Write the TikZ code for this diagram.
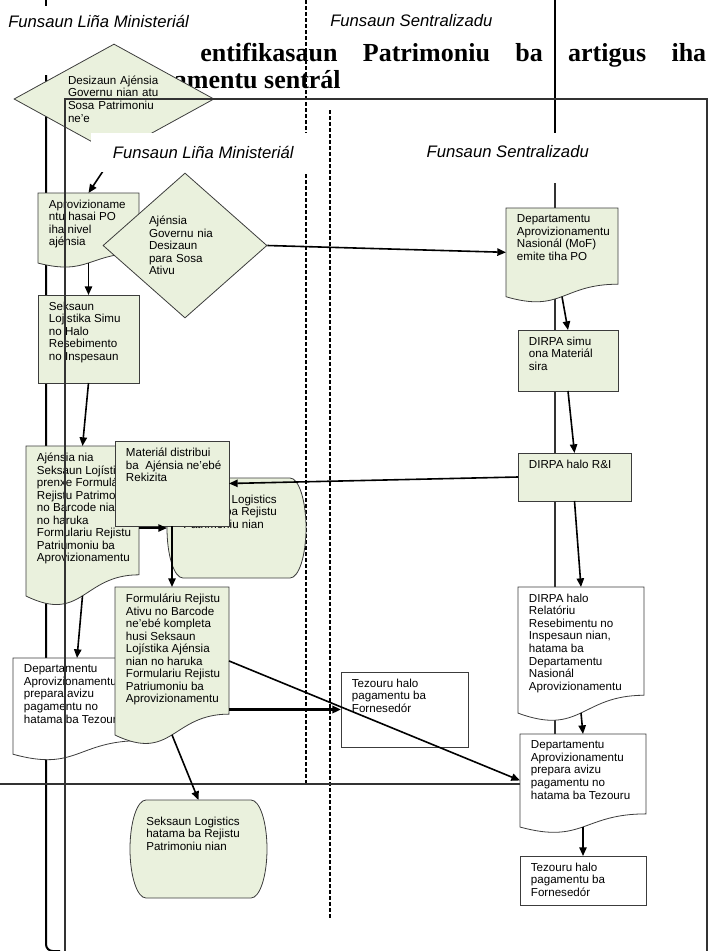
\documentclass[tikz,border=0pt]{standalone}
\usepackage{fontspec}
\setmainfont{Liberation Serif}
\setsansfont{Liberation Sans}
\usetikzlibrary{calc,shapes.geometric,arrows.meta}

\definecolor{flowgreen}{RGB}{234,241,221}
\definecolor{boxline}{RGB}{60,60,60}
\def\pxu{0.75pt}
\newcommand\flowfont{\sffamily\fontsize{8.7}{9.4}\selectfont}

% document shape: wavy bottom, text at top left
\def\docbox[#1](#2,#3)(#4:#5)#6#7{%
  \pgfmathsetmacro\dbxr{#2+#4}\pgfmathsetmacro\dbxm{#2+0.5*#4}%
  \pgfmathsetmacro\dbyr{#3+0.802*#5}\pgfmathsetmacro\dbyd{#3+1.107*#5}%
  \pgfmathsetmacro\dbyl{#3+0.934*#5}%
  \draw[shapeline,#1] (#2,#3) -- (\dbxr,#3) -- (\dbxr,\dbyr) .. controls (\dbxm,\dbyr) and (\dbxm,\dbyd) .. (#2,\dbyl) -- cycle;
  \node[boxarea, minimum width=#4*\pxu, minimum height=0.933*#5*\pxu] (#6) at (#2,#3) {};
  \node[txt] (#6-t) at (#2,#3) {#7};}
% plain process box
\def\rectbox[#1](#2,#3)(#4:#5)#6#7{%
  \node[boxarea, shapeline, #1, minimum width=#4*\pxu, minimum height=#5*\pxu] (#6) at (#2,#3) {};
  \node[txt] (#6-t) at (#2,#3) {#7};}
% box with bulging sides
\def\termbox[#1](#2,#3)(#4:#5)#6#7{%
  \pgfmathsetmacro\tbl{#2+16}\pgfmathsetmacro\tbr{#2+#4-16}\pgfmathsetmacro\tbx{#2+#4}%
  \pgfmathsetmacro\tbm{#3+0.5*#5}\pgfmathsetmacro\tbb{#3+#5}%
  \pgfmathsetmacro\tbu{#3+0.224*#5}\pgfmathsetmacro\tbd{#3+0.776*#5}%
  \pgfmathsetmacro\tbkl{#2+7.16}\pgfmathsetmacro\tbkr{#2+#4-7.16}%
  \draw[shapeline,#1] (\tbl,#3) -- (\tbr,#3) .. controls (\tbkr,#3) and (\tbx,\tbu) .. (\tbx,\tbm)
    .. controls (\tbx,\tbd) and (\tbkr,\tbb) .. (\tbr,\tbb) -- (\tbl,\tbb)
    .. controls (\tbkl,\tbb) and (#2,\tbd) .. (#2,\tbm) .. controls (#2,\tbu) and (\tbkl,#3) .. (\tbl,#3) -- cycle;
  \node[boxarea, minimum width=#4*\pxu, minimum height=#5*\pxu] (#6) at (#2,#3) {};
  \node[txt, inner xsep=12pt, inner ysep=12.5pt] (#6-t) at (#2,#3) {#7};}

\tikzset{
  shapeline/.style={draw=boxline, line width=0.6pt},
  boxarea/.style={anchor=north west, inner sep=0pt, outer sep=0pt},
  txt/.style={anchor=north west, inner xsep=8pt, inner ysep=5pt, align=left, font=\flowfont},
  hdr/.style={font=\sffamily\itshape\fontsize{12.5}{15}\selectfont, inner sep=0pt},
  titletxt/.style={font=\bfseries\fontsize{19.5}{23}\selectfont, inner sep=0pt},
  flow/.style={-{Triangle[length=6.5pt,width=5.5pt]}, line width=1.2pt},
  laneline/.style={line width=1.5pt},
  lanedash/.style={dash pattern=on 3pt off 1.5pt, line width=0.9pt},
  framedot/.style={line width=0.9pt, black!80}
}

\begin{document}
\begin{tikzpicture}[x=0.75pt, y=-0.75pt]
  \useasboundingbox (0,0) rectangle (710,951);

  %%%%% TITLE AND TOP HEADERS %%%%%
  \node[titletxt, anchor=base west] (title1) at (200,61) {\makebox[379.5pt][s]{entifikasaun Patrimoniu ba artigus iha}};
  \node[titletxt, anchor=base east] (title2) at (341,88) {pamentu sentrál};
  \node[hdr, anchor=west] (toplina) at (8,21) {Funsaun Liña Ministeriál};
  \node[hdr, anchor=west] (topsentral) at (330,21) {Funsaun Sentralizadu};

  %%%%% LANES %%%%%
  \draw[laneline] (46,0) -- (46,6);
  \draw[laneline, rounded corners=5pt] (46,75) -- (46,951) -- (60,951);
  \draw[laneline] (555,0) -- (555,133);
  \draw[lanedash] (306,0) -- (306,784);
  \draw[lanedash] (330,110) -- (330,918);
  \draw[framedot] (555,183) -- (555,800);
  \draw[framedot] (0,784) -- (560,784);

  \node[diamond, shapeline, fill=flowgreen, minimum width=200*\pxu, minimum height=110*\pxu, shape aspect=1.8, inner sep=0pt,
        text width=69pt, align=left, font=\flowfont] (desizaunsosa) at (114,99) {Desizaun Ajénsia\\Governu nian atu\\Sosa Patrimoniu\\ne'e};
  \draw[flow] (desizaunsosa.south) -- (88.5,193);

  \node[hdr, fill=white, anchor=north west, minimum width=224*\pxu, minimum height=39*\pxu] (hdrlina) at (91,133) {Funsaun Liña Ministeriál};
  \node[hdr, fill=white, anchor=north west, minimum width=335*\pxu, minimum height=37*\pxu] (hdrsentral) at (340,133) {Funsaun Sentralizadu};

  %%%%% LIÑA MINISTERIÁL %%%%%
  \docbox[fill=flowgreen](38,193)(101:75){aprovpo}{Aprovizioname\\ntu hasai PO\\iha nivel\\ajénsia}
  \node[diamond, shapeline, fill=flowgreen, minimum width=164*\pxu, minimum height=145*\pxu, shape aspect=1.13, inner sep=0pt,
        text width=54pt, align=left, font=\flowfont] (desizaunativu) at (185,245.5) {Ajénsia\\Governu nia\\Desizaun\\para Sosa\\Ativu};
  \rectbox[fill=flowgreen](38,295)(101:88){simuresebe}{Seksaun\\Lojistika Simu\\no Halo\\Resebimento\\no Inspesaun}
  \docbox[fill=flowgreen](26,446)(113:160.6){prenxeform}{Ajénsia nia\\Seksaun Lojístika\\prenxe Formuláriu\\Rejistu Patrimoniu\\no Barcode nian\\no haruka\\Formulariu Rejistu\\Patriumoniu ba\\Aprovizionamentu}
  \termbox[fill=flowgreen](167,478)(139:100){hatamatop}{Seksaun Logistics\\hatama ba Rejistu\\Patrimoniu nian}
  \rectbox[fill=flowgreen](115,441)(114:85){materialdist}{Materiál distribui\\ba~ Ajénsia ne'ebé\\Rekizita}
  \docbox[fill=white](13,658)(128:103){avizulina}{Departamentu\\Aprovizionamentu\\prepara avizu\\pagamentu no\\hatama ba Tezouru}
  \docbox[fill=flowgreen](115,587)(114:158.5){formkompleta}{Formuláriu Rejistu\\Ativu no Barcode\\ne'ebé kompleta\\husi Seksaun\\Lojístika Ajénsia\\nian no haruka\\Formulariu Rejistu\\Patriumoniu ba\\Aprovizionamentu}
  \rectbox[fill=white](341,672)(127:75){tezourulina}{Tezouru halo\\pagamentu ba\\Fornesedór}
  \termbox[fill=flowgreen](130,800)(137:98){hatamabottom}{Seksaun Logistics\\hatama ba Rejistu\\Patrimoniu nian}

  %%%%% SENTRALIZADU %%%%%
  \docbox[fill=flowgreen](506,208)(112:95){mofpo}{Departamentu\\Aprovizionamentu\\Nasionál (MoF)\\emite tiha PO}
  \rectbox[fill=flowgreen](518,330)(100:61){dirpasimu}{DIRPA simu\\ona Materiál\\sira}
  \rectbox[fill=flowgreen](518,453)(113:48){dirparni}{DIRPA halo R\&I}
  \docbox[fill=white](518,587)(126:135){dirparelatoriu}{DIRPA halo\\Relatóriu\\Resebimentu no\\Inspesaun nian,\\hatama ba\\Departamentu\\Nasionál\\Aprovizionamentu}
  \docbox[fill=white](520,734)(126:99.6){avizusentral}{Departamentu\\Aprovizionamentu\\prepara avizu\\pagamentu no\\hatama ba Tezouru}
  \rectbox[fill=white](520,856)(126:49){tezourusentral}{Tezouru halo\\pagamentu ba\\Fornesedór}

  %%%%% CONNECTORS %%%%%
  \draw[flow] (aprovpo.south) -- (simuresebe.north);
  \draw[flow] (simuresebe.south) -- (prenxeform.north);
  \draw[flow] (prenxeform.south) -- (avizulina.north);
  \draw[flow] (desizaunativu.east) -- (mofpo.west);
  \draw[flow] (mofpo.south) -- (dirpasimu.north);
  \draw[flow] (dirpasimu.south) -- (dirparni.north);
  \draw[flow] (dirparni.south) -- (dirparelatoriu.north);
  \draw[flow] (dirparelatoriu.south) -- (avizusentral.north);
  \draw[flow] (avizusentral.south) -- (tezourusentral.north);
  \draw[flow] (dirparni.west) -- (materialdist.east);
  \draw[flow] (prenxeform.east |- hatamatop.west) -- (hatamatop.west);
  \draw[flow] (materialdist.south) -- (formkompleta.north);
  \draw[flow, line width=1.6pt] (formkompleta.east |- tezourulina.west) -- (tezourulina.west);
  \draw[flow] (formkompleta.east) -- (avizusentral.west);
  \draw[flow] (formkompleta.south) -- (hatamabottom.north);

  %%%%% FRAME %%%%%
  \draw[framedot] (65,951) -- (65,99) -- (707,99) -- (707,951);
\end{tikzpicture}
\end{document}
